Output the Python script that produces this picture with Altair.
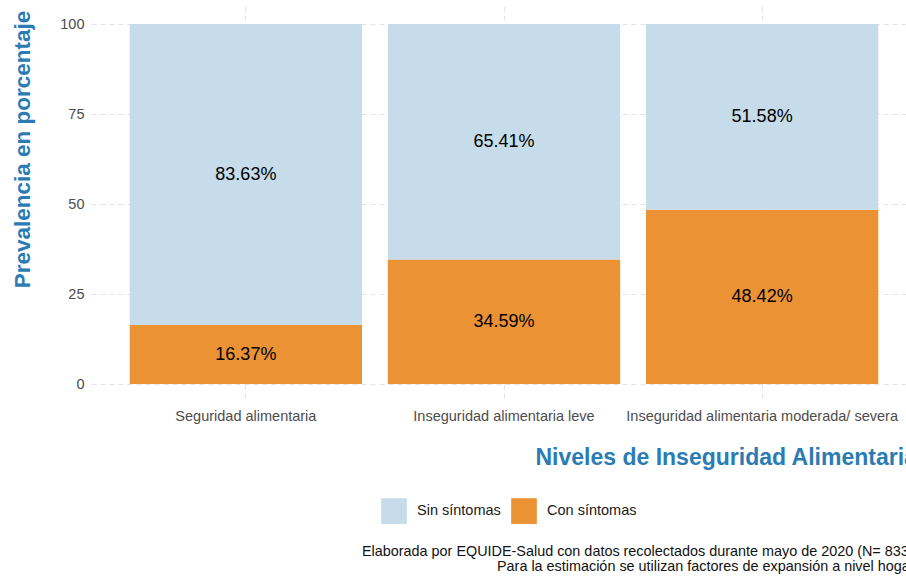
import altair as alt
import pandas as pd

categorias = ["Seguridad alimentaria", "Inseguridad alimentaria leve",
              "Inseguridad alimentaria moderada/ severa"]
sin_sintomas = [83.63, 65.41, 51.58]
con_sintomas = [16.37, 34.59, 48.42]
grupos = ["Sin síntomas", "Con síntomas"]
colores = ["#c6dcea", "#ea9234"]
y_ticks = [0, 25, 50, 75, 100]
titulo_y = "Prevalencia en porcentaje"
titulo_x = "Niveles de Inseguridad Alimentaria"
nota1 = "Elaborada por EQUIDE-Salud con datos recolectados durante mayo de 2020 (N= 833)."
nota2 = "Para la estimación se utilizan factores de expansión a nivel hogar."

rows = []
for c, s, k in zip(categorias, sin_sintomas, con_sintomas):
    rows.append({"cat": c, "grupo": "Con síntomas", "y0": 0, "y1": k,
                 "mid": k / 2, "label": f"{k:.2f}%"})
    rows.append({"cat": c, "grupo": "Sin síntomas", "y0": k, "y1": k + s,
                 "mid": k + s / 2, "label": f"{s:.2f}%"})
df = pd.DataFrame(rows)

FONT = "Liberation Sans"
BLUE = "#2b7bb5"

xscale = alt.Scale(domain=categorias, range=[0, 826], paddingInner=0.1, paddingOuter=0.15)
yscale = alt.Scale(domain=[-5, 105], nice=False, zero=False)

bars = alt.Chart(df).mark_bar().encode(
    x=alt.X("cat:N", scale=xscale, sort=categorias,
            axis=alt.Axis(title=titulo_x, labelAngle=0, labelFont=FONT, labelFontSize=14.5,
                          labelColor="#4d4d4d", labelPadding=7, ticks=False, domain=False,
                          grid=True, bandPosition=0.5, gridDash=[5, 4], gridColor="#e3e3e3",
                          titleFont=FONT, titleFontSize=23, titleFontWeight="bold",
                          titleColor=BLUE, titleX=444, titleY=62, titleAlign="left",
                          titleBaseline="alphabetic", labelLimit=400)),
    y=alt.Y("y0:Q", scale=yscale,
            axis=alt.Axis(title=titulo_y, values=y_ticks, labelFont=FONT, labelFontSize=14.5,
                          labelColor="#4d4d4d", labelPadding=7, ticks=False, domain=False,
                          grid=True, gridDash=[5, 4], gridColor="#e3e3e3",
                          titleFont=FONT, titleFontSize=22.5, titleFontWeight="bold",
                          titleColor=BLUE, titleX=-62, titleY=143, titleAngle=-90,
                          titleAlign="center", titleBaseline="alphabetic")),
    y2="y1:Q",
    color=alt.Color("grupo:N", scale=alt.Scale(domain=grupos, range=colores),
                    legend=alt.Legend(title=None, orient="none", legendX=290, legendY=492,
                                      direction="horizontal", columns=2, symbolType="square",
                                      symbolSize=660, symbolStrokeWidth=0, labelFont=FONT,
                                      labelFontSize=14.5, labelColor="#1a1a1a",
                                      labelOffset=10, columnPadding=10, padding=0)),
)

labels = alt.Chart(df).mark_text(font=FONT, fontSize=18, color="black").encode(
    x=alt.X("cat:N", scale=xscale, sort=categorias),
    y=alt.Y("mid:Q", scale=yscale),
    text="label:N",
)

cap1 = alt.Chart(pd.DataFrame({"t": [nota1]})).mark_text(
    font=FONT, fontSize=14.4, color="#111", align="left", baseline="alphabetic"
).encode(x=alt.value(271), y=alt.value(550), text="t:N")
cap2 = alt.Chart(pd.DataFrame({"t": [nota2]})).mark_text(
    font=FONT, fontSize=14.4, color="#111", align="left", baseline="alphabetic"
).encode(x=alt.value(406), y=alt.value(565), text="t:N")

chart = alt.layer(bars, labels, cap1, cap2).properties(
    width=815, height=396,
    autosize=alt.AutoSizeParams(type="none"),
    padding={"left": 91, "top": 6, "right": 0, "bottom": 175},
    background="white",
).configure_view(strokeWidth=0)

chart.save("out.html", embed_options={"renderer": "svg", "actions": False})
